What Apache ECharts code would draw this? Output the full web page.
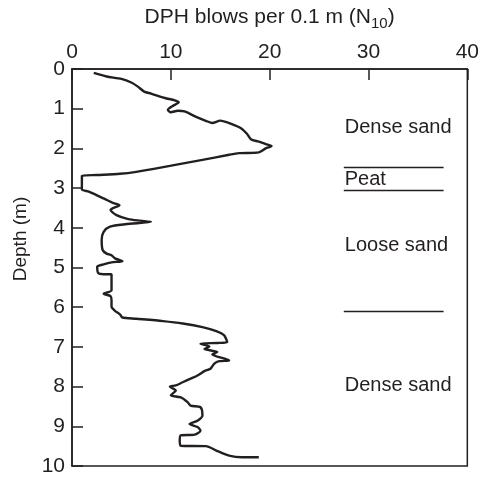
<!DOCTYPE html>
<html>
<head>
<meta charset="utf-8">
<script src="https://cdn.jsdelivr.net/npm/echarts@6/dist/echarts.min.js"></script>
<style>
html,body{margin:0;padding:0;background:#fff;}
#chart{width:482px;height:478px;}
</style>
</head>
<body>
<div id="chart"></div>
<script>
// DPH blow counts (N10) read along the profile, with matching depths (m)
var blows = [2.2,3.5,5.0,6.0,6.7,7.3,8.0,9.4,10.4,10.8,10.2,9.7,10.0,10.7,11.4,12.5,13.6,14.2,15.0,16.1,17.1,17.7,18.1,18.9,19.6,20.2,19.6,18.9,16.9,15.9,13.2,9.9,6.5,4.85,2.5,1.0,1.0,1.7,3.2,4.2,4.8,3.9,4.5,5.7,6.9,8.0,5.4,3.85,3.2,3.0,3.1,3.5,4.0,4.35,5.1,4.0,3.2,2.55,2.65,3.2,4.0,4.0,3.2,3.9,4.0,4.0,4.35,4.85,5.1,6.5,9.2,11.2,13.2,14.6,15.4,15.7,14.7,13.0,13.9,13.4,14.7,14.2,15.9,14.9,14.4,14.0,13.4,12.7,12.0,11.2,10.5,9.9,10.5,10.0,11.0,11.7,12.0,13.0,13.2,12.7,11.9,12.7,13.0,12.4,11.0,10.9,11.0,13.55,14.6,15.9,17.2,18.9];
var depths = [0.10,0.19,0.25,0.34,0.45,0.57,0.62,0.73,0.79,0.84,0.93,1.03,1.09,1.05,1.07,1.20,1.31,1.36,1.30,1.38,1.49,1.63,1.77,1.83,1.89,1.94,2.00,2.10,2.12,2.16,2.29,2.44,2.59,2.64,2.67,2.69,3.03,3.09,3.26,3.38,3.43,3.55,3.68,3.78,3.82,3.85,3.91,3.97,4.10,4.31,4.56,4.65,4.69,4.77,4.84,4.87,4.92,4.98,5.14,5.17,5.17,5.57,5.66,5.72,5.83,5.99,6.09,6.18,6.26,6.29,6.35,6.41,6.50,6.60,6.71,6.88,6.90,6.92,6.99,7.05,7.13,7.19,7.34,7.36,7.42,7.55,7.61,7.72,7.80,7.89,7.97,8.00,8.10,8.22,8.27,8.39,8.48,8.52,8.73,8.86,8.94,9.02,9.11,9.21,9.23,9.36,9.49,9.50,9.61,9.74,9.78,9.78];

// x axis ticks (N10) and depth ticks (m)
var xTicks = [0, 10, 20, 30, 40];
var depthTicks = [0,1,2,3,4,5,6,7,8,9,10];

// soil layer annotations
var layerNames = ['Dense sand', 'Peat', 'Loose sand', 'Dense sand'];
var layerLabelDepths = [1.48, 2.78, 4.45, 7.97];
var layerLabelX = 27.6;
var boundaryDepths = [2.48, 3.05, 6.10];
var boundaryXStart = 27.5;
var boundaryXEnd = 37.6;

var INK = '#231f20';
var FONT = 'Liberation Sans';

var profile = blows.map(function (b, i) { return [b, depths[i]]; });
var labels = layerNames.map(function (n, i) { return { value: [layerLabelX, layerLabelDepths[i]], name: n }; });
var bLines = boundaryDepths.map(function (d) { return [{ coord: [boundaryXStart, d] }, { coord: [boundaryXEnd, d] }]; });

var chart = echarts.init(document.getElementById('chart'), null, { renderer: 'canvas' });
chart.setOption({
  animation: false,
  backgroundColor: '#fff',
  textStyle: { fontFamily: FONT, color: INK },
  grid: { left: 72, right: 11, top: 69, bottom: 12, show: true, borderColor: INK, borderWidth: 1.5, backgroundColor: 'transparent' },
  xAxis: {
    type: 'value', position: 'top', min: xTicks[0], max: xTicks[xTicks.length - 1], interval: 10,
    name: 'DPH blows per 0.1 m (N{sub|10})',
    nameLocation: 'middle', nameGap: 38,
    nameTextStyle: { fontSize: 21, color: INK, fontFamily: FONT, rich: { sub: { fontSize: 15, color: INK, fontFamily: FONT, padding: [12, 0, 0, 0] } } },
    axisLine: { show: true, lineStyle: { color: INK, width: 1.5 } },
    axisTick: { show: true, inside: true, length: 11, lineStyle: { color: INK, width: 1.5 } },
    axisLabel: { fontSize: 21, color: INK, margin: 6, fontFamily: FONT },
    splitLine: { show: false }
  },
  yAxis: {
    type: 'value', inverse: true, min: depthTicks[0], max: depthTicks[depthTicks.length - 1], interval: 1,
    name: 'Depth (m)', nameLocation: 'middle', nameGap: 42,
    nameTextStyle: { fontSize: 19, color: INK, fontFamily: FONT, padding: [0, 0, 0, 57] },
    axisLine: { show: true, lineStyle: { color: INK, width: 1.5 } },
    axisTick: { show: true, inside: true, length: 11, lineStyle: { color: INK, width: 1.5 } },
    axisLabel: { fontSize: 21, color: INK, margin: 7, fontFamily: FONT },
    splitLine: { show: false }
  },
  series: [
    {
      type: 'line', data: profile, smooth: 0.25, symbol: 'none',
      lineStyle: { color: INK, width: 2.4 },
      markLine: {
        silent: true, symbol: 'none', label: { show: false },
        lineStyle: { color: INK, width: 1.3, type: 'solid', opacity: 1 },
        data: bLines
      }
    },
    {
      type: 'scatter', data: labels, symbolSize: 0, silent: true,
      itemStyle: { opacity: 1, color: INK },
      label: { show: true, position: 'right', distance: 0, formatter: '{b}', fontSize: 20, color: INK, opacity: 1, fontFamily: FONT, align: 'left', verticalAlign: 'middle' }
    }
  ]
});
</script>
</body>
</html>
